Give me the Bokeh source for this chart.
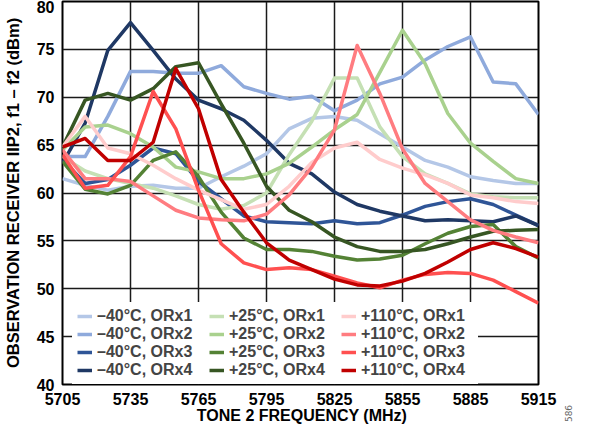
import math
from bokeh.plotting import figure
from bokeh.models import Legend, LegendItem, FixedTicker, Label, Range1d
from bokeh.embed import file_html
from bokeh.resources import INLINE

freq = [5705, 5715, 5725, 5735, 5745, 5755, 5765, 5775, 5785, 5795, 5805,
        5815, 5825, 5835, 5845, 5855, 5865, 5875, 5885, 5895, 5905, 5915]

m40_orx1 = [61.5, 60.8, 60.3, 60.7, 60.8, 60.5, 60.5, 61.7, 62.8, 64.1, 66.7, 67.8, 68.0, 67.6, 66.2, 64.8, 63.4, 62.7, 61.7, 61.3, 61.0, 61.0]
m40_orx2 = [63.8, 63.8, 68.0, 72.7, 72.7, 72.5, 72.5, 73.3, 71.1, 70.4, 69.8, 70.1, 68.6, 69.7, 71.4, 72.1, 73.9, 75.3, 76.3, 71.6, 71.4, 68.2]
m40_orx3 = [63.5, 61.0, 61.4, 62.9, 64.7, 64.1, 61.2, 59.4, 57.6, 57.0, 56.9, 56.8, 57.1, 56.8, 56.9, 57.7, 58.6, 59.1, 59.4, 58.8, 57.7, 56.6]
m40_orx4 = [63.1, 67.3, 74.9, 77.8, 74.9, 71.9, 69.7, 68.8, 67.6, 65.5, 63.1, 62.0, 60.1, 58.8, 58.1, 57.6, 57.1, 57.2, 57.1, 57.0, 57.6, 56.6]

p25_orx1 = [63.8, 62.3, 61.5, 61.0, 60.5, 59.7, 58.8, 58.3, 58.7, 60.0, 64.0, 67.5, 72.0, 72.0, 66.9, 63.8, 62.0, 61.0, 59.9, 59.6, 59.5, 59.5]
p25_orx2 = [64.5, 66.9, 67.1, 66.2, 64.8, 62.7, 62.2, 61.5, 61.5, 62.0, 63.1, 64.8, 66.6, 68.2, 72.6, 77.0, 73.5, 68.3, 65.2, 63.3, 61.5, 61.0]
p25_orx3 = [63.3, 60.4, 59.9, 60.8, 63.4, 64.3, 61.7, 58.0, 55.3, 54.1, 54.1, 53.9, 53.4, 53.0, 53.1, 53.5, 54.7, 55.8, 56.5, 56.7, 54.4, 53.2]
p25_orx4 = [64.8, 69.7, 70.4, 69.7, 70.9, 73.2, 73.6, 69.3, 65.2, 60.7, 58.2, 57.0, 55.4, 54.4, 53.9, 53.9, 54.1, 54.7, 55.4, 56.0, 56.1, 56.2]

p110_orx1 = [64.8, 68.0, 64.7, 64.1, 62.9, 61.5, 60.3, 59.3, 58.3, 58.8, 60.7, 63.2, 64.7, 65.3, 63.5, 62.6, 61.9, 61.0, 59.8, 59.5, 59.1, 58.9]
p110_orx2 = [64.5, 61.5, 61.5, 61.2, 59.7, 58.2, 57.4, 57.2, 57.1, 57.8, 59.8, 62.7, 66.6, 75.4, 70.4, 64.6, 61.0, 59.1, 57.2, 56.1, 55.4, 54.8]
p110_orx3 = [64.0, 60.5, 60.8, 63.8, 70.6, 66.7, 60.3, 54.7, 52.7, 52.0, 52.2, 52.0, 51.3, 50.6, 50.1, 50.9, 51.5, 51.7, 51.6, 50.9, 49.7, 48.5]
p110_orx4 = [64.8, 65.7, 63.4, 63.4, 65.3, 73.0, 68.8, 61.4, 58.0, 54.8, 53.0, 52.0, 51.0, 50.4, 50.3, 50.8, 51.6, 52.8, 54.1, 54.8, 54.2, 53.3]

labels = ["\u201340°C, ORx1", "\u201340°C, ORx2", "\u201340°C, ORx3", "\u201340°C, ORx4",
          "+25°C, ORx1", "+25°C, ORx2", "+25°C, ORx3", "+25°C, ORx4",
          "+110°C, ORx1", "+110°C, ORx2", "+110°C, ORx3", "+110°C, ORx4"]
series = [m40_orx1, m40_orx2, m40_orx3, m40_orx4,
          p25_orx1, p25_orx2, p25_orx3, p25_orx4,
          p110_orx1, p110_orx2, p110_orx3, p110_orx4]
colors = ["#B4C7E7", "#8FAADC", "#2F5597", "#1F3864",
          "#C5E0B4", "#A9D18E", "#548235", "#375623",
          "#FFCCCC", "#FF7C80", "#FF5050", "#C00000"]

x_ticks = [5705, 5735, 5765, 5795, 5825, 5855, 5885, 5915]
y_ticks = [40, 45, 50, 55, 60, 65, 70, 75, 80]
x_title = "TONE 2 FREQUENCY (MHz)"
y_title = "OBSERVATION RECEIVER IIP2, f1 \u2013 f2 (dBm)"

FONT = "Liberation Sans"
W, H = 576, 428
BL, BR, BT, BB = 59, 38, 1, 44

p = figure(width=W, height=H, output_backend="svg", toolbar_location=None,
           x_range=Range1d(5705, 5915), y_range=Range1d(40, 80),
           min_border_left=BL, min_border_right=BR, min_border_top=BT, min_border_bottom=BB,
           background_fill_color="white", border_fill_color="white")

p.outline_line_color = "black"
p.outline_line_width = 2

for ax in (p.xaxis[0], p.yaxis[0]):
    ax.axis_line_color = None
    ax.major_tick_line_color = None
    ax.minor_tick_line_color = None
    ax.major_tick_out = 0
    ax.major_tick_in = 0
    ax.minor_tick_out = 0
    ax.minor_tick_in = 0
    ax.major_label_text_font = FONT
    ax.major_label_text_font_style = "bold"
    ax.major_label_text_font_size = "16px"
    ax.major_label_text_color = "black"
    ax.axis_label_text_font = FONT
    ax.axis_label_text_font_style = "bold"
    ax.axis_label_text_color = "black"

p.yaxis.axis_label_text_font_size = "16.5px"
p.xaxis.ticker = FixedTicker(ticks=x_ticks)
p.yaxis.ticker = FixedTicker(ticks=y_ticks)
p.yaxis.axis_label = y_title
p.xaxis.major_label_standoff = 8
p.yaxis.major_label_standoff = 8
p.yaxis.axis_label_standoff = 12

p.xgrid.ticker = FixedTicker(ticks=x_ticks)
p.ygrid.ticker = FixedTicker(ticks=y_ticks)
for g in (p.xgrid[0], p.ygrid[0]):
    g.grid_line_color = "#1a1a1a"
    g.grid_line_width = 1.5

items = []
for lab, ys, c in zip(labels, series, colors):
    r = p.line(freq, ys, line_color=c, line_width=3.5, line_join="round")
    items.append(LegendItem(label=lab, renderers=[r]))

legend = Legend(items=items, ncols=3, location=(10, 0), margin=0,
                background_fill_color="white", background_fill_alpha=1.0,
                border_line_alpha=0, padding=5, spacing=-4,
                glyph_width=15, glyph_height=14, label_height=14, label_width=112,
                label_standoff=5,
                label_text_font=FONT, label_text_font_style="bold",
                label_text_font_size="16px", label_text_line_height=1.0)
p.add_layout(legend)

frame_w = W - BL - BR
xlab = Label(x=frame_w / 2, y=9, x_units="screen", y_units="screen", text=x_title,
             text_font=FONT, text_font_style="bold", text_font_size="16px",
             text_color="black", text_align="center", text_baseline="middle")
p.add_layout(xlab, "below")

fig_no = Label(x=30, y=-29, x_units="screen", y_units="screen", text="586",
               angle=math.pi / 2, text_font="DejaVu Sans", text_font_size="9px",
               text_color="#666666", text_align="center", text_baseline="middle")
p.add_layout(fig_no, "right")

open("out.html", "w").write(file_html(p, INLINE))
